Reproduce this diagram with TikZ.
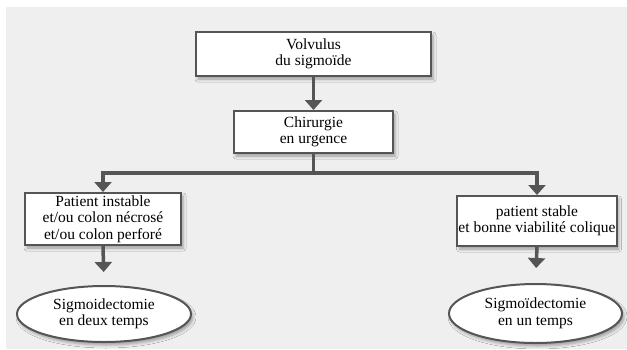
\documentclass[tikz,border=0pt]{standalone}
\usepackage{fontspec}
\setmainfont{Liberation Serif}
\usetikzlibrary{arrows.meta,shapes.geometric,shadows.blur}
\definecolor{fondgris}{RGB}{239,239,239}
\definecolor{traitgris}{RGB}{85,85,85}
\tikzset{
    boite/.style={draw=traitgris, line width=2pt, fill=white, align=center, inner sep=1pt,
        font=\fontsize{15.5}{16.5}\selectfont,
        blur shadow={shadow xshift=2pt, shadow yshift=-3pt, shadow opacity=35, shadow blur radius=3pt}},
    bulle/.style={boite, ellipse},
    trait/.style={draw=traitgris, line width=3.5pt},
    fleche/.style={trait, -{Triangle[width=17pt,length=10pt]}},
}

\begin{document}
\begin{tikzpicture}[x=1pt,y=1pt]
    \useasboundingbox (0,0) rectangle (627,-349);
    \fill[fondgris] (6,-7) rectangle (627,-349);
    \node[boite, minimum width=235pt, minimum height=44pt] (volvulus) at (313.5,-54) {Volvulus\\du sigmoïde};
    \node[boite, minimum width=159pt, minimum height=42pt] (chirurgie) at (313.5,-132) {Chirurgie\\en urgence};
    \node[boite, minimum width=156pt, minimum height=52pt] (instable) at (103,-219) {Patient instable\\et/ou colon nécrosé\\et/ou colon perforé};
    \node[boite, minimum width=158pt, minimum height=50pt] (stable) at (537,-221) {patient stable\\et bonne viabilité colique};
    \node[bulle, minimum width=174pt, minimum height=56pt] (deuxtemps) at (104,-314) {Sigmoidectomie\\en deux temps};
    \node[bulle, minimum width=173pt, minimum height=59pt] (untemps) at (535.5,-313.5) {Sigmoïdectomie\\en un temps};
    \draw[fleche] (volvulus.south) -- (chirurgie.north);
    \draw[trait] (chirurgie.south) -- ++(0,-19) coordinate (branche);
    \draw[fleche] (branche) -| (instable.north);
    \draw[fleche] (branche) -| (stable.north);
    \draw[fleche, shorten >=13pt] (instable.south) -- (deuxtemps.north);
    \draw[fleche, shorten >=15pt] (stable.south) -- (untemps.north);
\end{tikzpicture}
\end{document}
